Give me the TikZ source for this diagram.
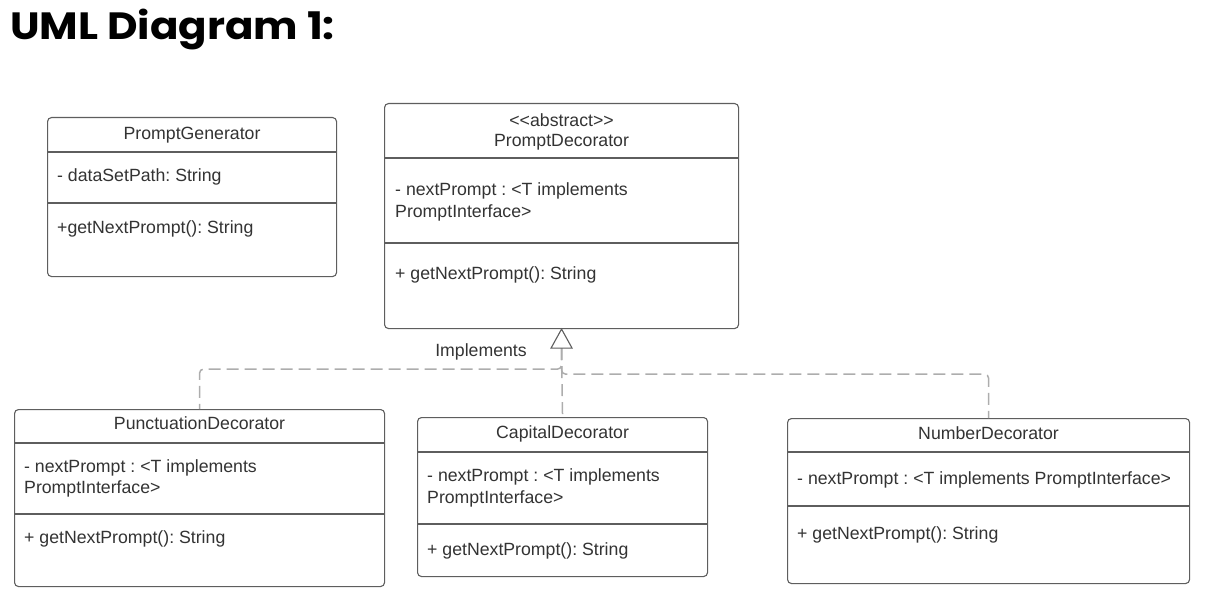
\documentclass[tikz,border=0pt]{standalone}
\usepackage{fontspec}
\setmainfont{Liberation Sans}
\newfontfamily\titlefont{Poppins}
\frenchspacing
\definecolor{boxgray}{HTML}{5E5E5E}
\definecolor{txtgray}{HTML}{333333}
\definecolor{dashgray}{HTML}{ADADAD}
\begin{document}
\begin{tikzpicture}[x=1bp,y=-1bp,
  box/.style={draw=boxgray, line width=1.1bp, rounded corners=4bp, anchor=north west, inner sep=0pt, fill=white},
  divline/.style={draw=boxgray, line width=1.1bp},
  ttl/.style={text=txtgray, font=\fontsize{17.7bp}{21bp}\selectfont, inner sep=0pt, text height=0.72em, text depth=0.21em, yshift=-4bp},
  lt/.style={ttl, anchor=west},
  conn/.style={draw=dashgray, line width=1.5bp, dash pattern=on 12bp off 6bp, rounded corners=4bp},
  tri/.style={draw=boxgray, line width=1.1bp, fill=white, line join=miter}
]
\useasboundingbox (0,0) rectangle (1208,604);
\node[anchor=base west, inner sep=0pt, text=black, font=\titlefont\bfseries\fontsize{38bp}{40bp}\selectfont] (title) at (10,40) {\scalebox{1.105}[1]{UML Diagram 1:}};

% PromptGenerator
\node[box, minimum width=289bp, minimum height=159bp] (pg) at (47,117) {};
\draw[divline] (pg.west |- 0,152) -- (pg.east |- 0,152);
\draw[divline] (pg.west |- 0,203) -- (pg.east |- 0,203);
\node[ttl] (pgn) at (pg.north |- 0,133) {PromptGenerator};
\node[lt] (pga) at (57,175) {- dataSetPath: String};
\node[lt] (pgm) at (57,227) {+getNextPrompt(): String};

% PromptDecorator
\node[box, minimum width=354bp, minimum height=225bp] (pd) at (384,103) {};
\draw[divline] (pd.west |- 0,158) -- (pd.east |- 0,158);
\draw[divline] (pd.west |- 0,243) -- (pd.east |- 0,243);
\node[ttl] (pds) at (pd.north |- 0,120) {<{}<abstract>{}>};
\node[ttl] (pdn) at (pd.north |- 0,140) {PromptDecorator};
\node[lt] (pda1) at (395,189) {- nextPrompt : <T implements};
\node[lt] (pda2) at (395,211) {PromptInterface>};
\node[lt] (pdm) at (395,273) {+ getNextPrompt(): String};

% PunctuationDecorator
\node[box, minimum width=370bp, minimum height=177bp] (pu) at (14,409) {};
\draw[divline] (pu.west |- 0,443) -- (pu.east |- 0,443);
\draw[divline] (pu.west |- 0,514) -- (pu.east |- 0,514);
\node[ttl] (pun) at (pu.north |- 0,423) {PunctuationDecorator};
\node[lt] (pua1) at (24,466) {- nextPrompt : <T implements};
\node[lt] (pua2) at (24,487) {PromptInterface>};
\node[lt] (pum) at (24,537) {+ getNextPrompt(): String};

% CapitalDecorator
\node[box, minimum width=290bp, minimum height=159bp] (ca) at (417,417) {};
\draw[divline] (ca.west |- 0,452) -- (ca.east |- 0,452);
\draw[divline] (ca.west |- 0,524) -- (ca.east |- 0,524);
\node[ttl] (can) at (ca.north |- 0,432) {CapitalDecorator};
\node[lt] (caa1) at (427,475) {- nextPrompt : <T implements};
\node[lt] (caa2) at (427,497) {PromptInterface>};
\node[lt] (cam) at (427,549) {+ getNextPrompt(): String};

% NumberDecorator
\node[box, minimum width=402bp, minimum height=165bp] (nu) at (787,418) {};
\draw[divline] (nu.west |- 0,452) -- (nu.east |- 0,452);
\draw[divline] (nu.west |- 0,506) -- (nu.east |- 0,506);
\node[ttl] (nun) at (nu.north |- 0,433) {NumberDecorator};
\node[lt] (nua) at (797,478) {- nextPrompt : <T implements PromptInterface>};
\node[lt] (num) at (797,533) {+ getNextPrompt(): String};

% realization connectors
\coordinate (tb) at ([yshift=-19bp]pd.south);
\draw[conn] (tb) -- (ca.north);
\draw[conn] (tb) -- ++(0,21) -| (pu.north);
\draw[conn] (tb) -- ++(0,26) -| (nu.north);
\draw[tri] (pd.south) -- ++(-10.5,19) -- ++(21,0) -- cycle;
\node[ttl] (impl) at (481,350) {Implements};
\end{tikzpicture}
\end{document}
